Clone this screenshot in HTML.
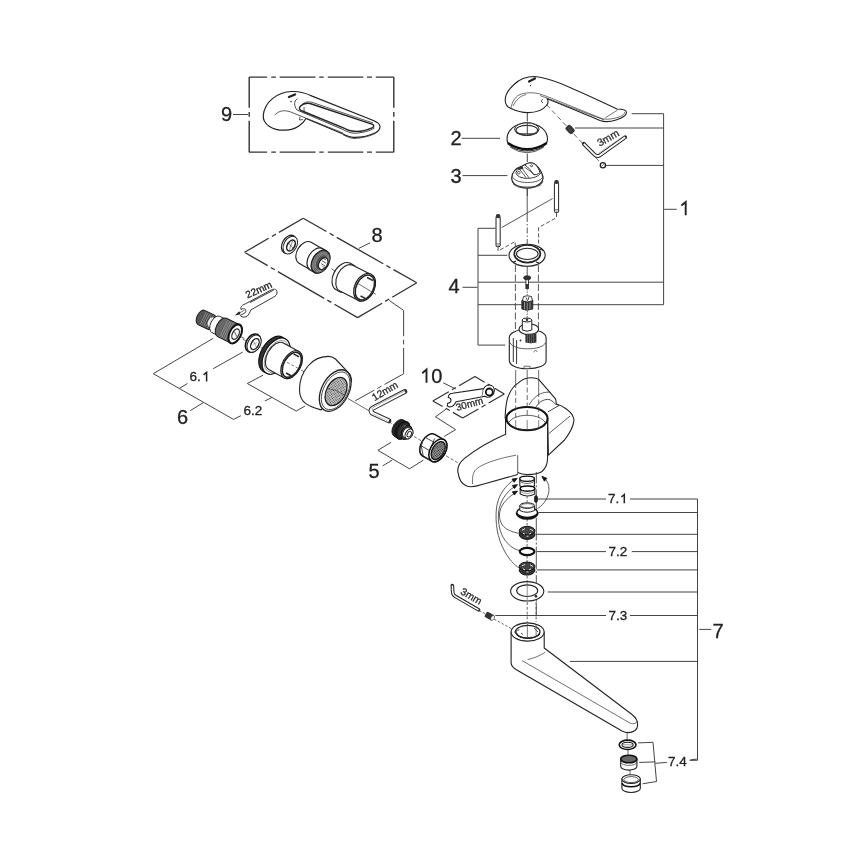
<!DOCTYPE html>
<html><head><meta charset="utf-8">
<style>
html,body{margin:0;padding:0;background:#fff;}
svg{display:block;will-change:transform;}
text{font-family:"Liberation Sans",sans-serif;fill:#222;stroke:#222;stroke-width:0.3;}
.L:not([stroke]){stroke:#444;}
.L:not([stroke-width]){stroke-width:1;}
.L:not([fill]){fill:none;}
.O:not([stroke]){stroke:#222;}
.O:not([stroke-width]){stroke-width:1.1;}
.O:not([fill]){fill:#fff;}
.O{stroke-linejoin:round;}
.o:not([stroke]){stroke:#333;}
.o:not([stroke-width]){stroke-width:0.7;}
.o:not([fill]){fill:none;}
.big{font-size:20px;}
.sm{font-size:13.5px;}
</style></head><body>
<svg width="868" height="868" viewBox="0 0 868 868">
<rect width="868" height="868" fill="#fff"/>
<!-- labels -->
<g id="labels">
<text class="big" x="221" y="120.6">9</text>
<text class="big" x="450.5" y="145">2</text>
<text class="big" x="450.5" y="183.2">3</text>
<path d="M681.4,205.6L685.7,202.1V215.2" stroke="#222" stroke-width="1.9" fill="none" stroke-linejoin="miter"/>
<text class="big" x="448.5" y="293.3">4</text>
<text class="big" x="371.5" y="241.7">8</text>
<text class="big" x="177" y="424.3">6</text>
<text class="sm" x="189.5" y="381.3">6.</text><path d="M203.6,374.8L206.6,372.4V381.4" stroke="#222" stroke-width="1.5" fill="none"/>
<text class="sm" x="243.5" y="414.8">6.2</text>
<path d="M422.2,373.2L426.5,369.6V382.8" stroke="#222" stroke-width="1.9" fill="none"/><text class="big" x="431.2" y="382.8">0</text>
<text class="big" x="368.5" y="478">5</text>
<text class="sm" x="608" y="503">7.</text><path d="M621.3,497L624.3,494.6V503.2" stroke="#222" stroke-width="1.5" fill="none"/>
<text class="sm" x="608.5" y="555.5">7.2</text>
<text class="sm" x="608.5" y="619.5">7.3</text>
<text class="big" x="712.5" y="638">7</text>
<text class="sm" x="668" y="766">7.4</text>
</g>
<!-- leader lines -->
<g id="leaders" class="L">
<path d="M233,114.5H248"/>
<path d="M461.6,138.3H500"/>
<path d="M462.5,175.6H507.4"/>
<path d="M664.2,209.3H676.7"/>
<path d="M663.6,113.7V304.7M631.7,113.7H663.6M575,128H663.6M606,165.4H663.6M478,282.2H663.6M478,304.7H663.6"/>
<path d="M462.5,287.3H477.4"/>
<path d="M478,228.3V345.1M478,228.3H495.4M478,255.3H507.4M478,345.1H505.3"/>
<path d="M359,248.3L370,242.8"/>
<path d="M213.2,338.3L153.3,373.7L233.5,419.4L240.9,415.7"/>
<path d="M242.7,352.1L213.2,368.7M187.4,383.5L179.1,388.6M203,402.8L190.2,410.7"/>
<path d="M263,375.2L247.3,383.5L296.2,411.1L305,406"/>
<path d="M264.8,401L272.2,397.3"/>
<path d="M443.2,382.8L455.6,389"/>
<path d="M697.5,499V760.3M536.8,499H606M630,499H697.5M538.5,512.5H697.5M536,534.3H697.5M536.8,551.6H606M631.8,551.6H697.5M536.8,569.9H697.5M547.8,592H697.5M495.3,615.5H606M630,615.5H697.5M569.9,661.4H697.5M689.7,760.3H697.5"/>
<path d="M699.3,629.4H711.3"/>
</g>
<g id="frames">
<path d="M249.1,77.1H267.1M249.1,152.1H267.1M271.3,77.1H275.9M271.3,152.1H275.9M279.6,77.1H315.5M279.6,152.1H315.5M319.2,77.1H323.7M319.2,152.1H323.7M327.8,77.1H363.3M327.8,152.1H363.3M367,77.1H372M367,152.1H372M375.8,77.1H393.8M375.8,152.1H393.8M249.2,77V107.8M393.8,77V107.8M249.2,112V116.7M393.8,112V116.7M249.2,120.8V152.2M393.8,120.8V152.2" stroke="#333" stroke-width="1.4" fill="none"/>


</g>

<g id="handle1">
<!-- axis line below handle -->
<path class="L" d="M527.3,112.5V121.5"/>
<path class="L" d="M527.3,153.7V162"/>
<path class="L" d="M527.3,188V196"/>
<!-- handle outer -->
<path class="O" d="M534.6,76.5C528,76.5 520,78.5 514,84.5C508,90 505,96 505.2,100.5C505.5,105 508,107.5 511,108.5C516,111 522,112.6 528,112.6C536,112.6 543,110 546.5,105.5C548.5,103 548,100 547,98.5C560,104 585,114 600,120.5C604,122 610,122 616,120C622,118 626.5,115 626.5,112.5C626.5,110 623,109 617,109C600,101 585,94 570,87.5C560,83 550,79 540,77.3Z"/>
<path class="o" d="M511,108C512,102 515,97 519,95C524,92.5 533,92 540,94C552,98 580,110 602,118.5C606,120 613,119 619,117C624,115 625,113 624.5,112"/>
<path class="o" d="M513,106C516,100 520,96 526,94.5"/>
<path class="o" d="M540,95.5C560,103 585,113 604,119.8"/>
<path class="o" d="M605.2,117.9L617.6,110"/>
<path d="M529,81.5L535,78.5" stroke="#222" stroke-width="2.2" stroke-linecap="round"/>
<circle cx="530.5" cy="85.5" r="0.7" fill="#333"/>
<path class="o" d="M543,99.2C541,100 541,102 543,102.8" stroke-width="1"/>
<!-- dashed screw axis -->
<path d="M546.6,104.6L602.4,164.8" stroke="#444" stroke-width="0.8" stroke-dasharray="5 3" fill="none"/>
<!-- grub screw -->
<g transform="translate(570.1,129.5) rotate(47)"><rect x="-4.2" y="-2.9" width="8.4" height="5.8" rx="2" fill="#333" stroke="#222" stroke-width="0.8"/><path d="M-2,-1.5V1.5M0,-1.5V1.5M2,-1.5V1.5" stroke="#777" stroke-width="0.5"/></g>
<!-- hex key 3mm -->
<path d="M583.8,143.8L594.5,154.6Q597,157 600,155.3L625.2,137.3" stroke="#222" stroke-width="3.8" fill="none" stroke-linecap="round" stroke-linejoin="round"/>
<path d="M583.8,143.8L594.5,154.6Q597,157 600,155.3L625.2,137.3" stroke="#fff" stroke-width="1.8" fill="none" stroke-linejoin="round"/>
<path d="M598,153.5L624.5,135.5" stroke="#888" stroke-width="0.5" fill="none"/>
<text x="0" y="0" font-size="10.5" style="fill:#333" transform="translate(599.8,146.8) rotate(-30)">3mm</text>
<!-- nut -->
<circle cx="602.9" cy="165.2" r="2.6" fill="#fff" stroke="#222" stroke-width="1.3"/>
<path d="M601.5,166.3L604.2,164" stroke="#333" stroke-width="0.6"/>
</g>
<g id="cap2">
<path d="M508,143.5Q527,157.5 546.8,143.5" stroke="#555" stroke-width="1" fill="none"/>
<path d="M510,147Q527,158.5 544,147" stroke="#333" stroke-width="0.8" fill="none"/>
<path class="O" d="M507,139C507,131 514,123.5 527,122.8C540,123.5 547.5,131 547.5,139C547.5,146 538,151 527,151C516,151 507,146 507,139Z"/>
<path d="M507.8,143Q527,155.5 546.8,143" stroke="#111" stroke-width="2.4" fill="none"/>
<ellipse class="O" cx="526.8" cy="129.2" rx="12.2" ry="6.4" stroke-width="1"/>
<ellipse class="o" cx="526.8" cy="130.2" rx="10.8" ry="4.8" stroke-width="1.1"/>
<path class="o" d="M516.5,133.5H537"/>
<path class="L" d="M527.3,122V135"/>
</g>
<g id="cap3">
<path class="O" d="M511.7,178C512,172 516,168 522,166L525.7,164.3C528,162.3 532.5,162 535.6,164.8C538.5,167.5 541.8,171.5 543,177C543.5,183 536,188.2 527.3,188.2C518.5,188.2 511.7,184 511.7,178Z" stroke-width="1.2"/>
<path class="o" d="M512,181.5C514,185.5 520,187 527.3,187C535,187 541,185.5 543,181.5" stroke-width="0.8"/>
<path class="o" d="M513.5,184C516,186.5 521,187.8 527.3,187.8C534,187.8 539,186.5 541.5,184" stroke="#555" stroke-width="1.2" stroke-dasharray="0.8 0.6"/>
<path class="o" d="M512.3,176.5C514,180.5 520,182.5 527.5,182.5C535,182.5 541.5,180.5 542.9,176.5" stroke-width="0.8"/>
<path class="o" d="M515.9,172.6C516.5,176 521,178.3 527.3,178.3C533,178.3 539,176.5 540.8,172.6" stroke-width="1"/>
<path class="o" d="M515.9,172.6C517,169.5 519.5,168 522,167.2" stroke-width="1"/>
<path class="O" d="M525,165C527.5,162.5 532.5,162.2 535.6,164.8C537.5,166.8 539.5,170 539.8,172.5C538,174.5 535.5,175 533.5,174.5C531,170.5 528.5,167.5 525,165Z" stroke-width="0.9"/>
<path class="o" d="M519,168.5L526,177.5M521.5,167.5L529,177.8M524.5,167L535,175" stroke-width="0.8"/>
<path d="M517.5,168L522.5,166L523.5,168.5L519,170Z" fill="#333"/>
<circle cx="518.8" cy="172.6" r="1.3" fill="none" stroke="#333" stroke-width="0.8"/>
<circle cx="531.5" cy="165.8" r="1" fill="none" stroke="#333" stroke-width="0.8"/>
</g>

<g id="handle9">
<path class="O" d="M291.9,91.5C299,91.3 306,93 312.1,96.1L372.7,120.3C377,122 380,123.5 380,126.5C380,129 378.5,131 376,132.5C370,135.5 362,137.5 353.3,137.4C349,137.3 346,135.5 343,134L306,118.5C303,124 296,129.8 285.4,130.2C272,130.5 262.5,124 263.3,115.4C264.5,102 277,92 291.9,91.5Z" stroke-width="1.2"/>
<path class="o" d="M297.4,98.8C293.5,101 294,106 297,110L343,129.5C347,131.5 350,133 354,133.2C362,133 370,131 374.5,128" stroke-width="0.9"/>
<path class="O" d="M300.5,106C303,103.5 306,102.8 310,103.5L372.5,124.3C374.5,125.2 374,127 372,127.8C366,130.5 358,132 352,131C349,130.8 347,129.5 344,128.2L301,110.5C299,109.5 299,107.5 300.5,106Z" stroke-width="1.4"/>
<path class="o" d="M302,104.5C305,101.5 309,101.5 312,102.3L373,123" stroke-width="0.8"/>
<path class="o" d="M343,134.8C347,136.8 350,138.3 354,138.5C362,138.3 372,135.8 377,132.3" stroke-width="0.8"/>
<path class="o" d="M274.8,115C278,111.5 282,110.5 285.4,110.8C288,111 290,111.5 292,112.5L343,133" stroke-width="0.8"/>
<path class="o" d="M304,107L304.2,113.5M300,116.5L299.5,120L303,119.5" stroke-width="0.8"/>
<path d="M289,97L295,94.5" stroke="#222" stroke-width="2.4" stroke-linecap="round"/>
<circle cx="291" cy="101.6" r="0.8" fill="#333"/>
</g>
<ellipse cx="288.9" cy="244.3" rx="6.6" ry="9.7" transform="rotate(30 288.9 244.3)" class="O" stroke-width="1.3"/><ellipse cx="290.3" cy="245.1" rx="6.4" ry="9.5" transform="rotate(30 290.3 245.1)" class="O" stroke-width="1"/><ellipse cx="291" cy="245.5" rx="3.6" ry="5.9" transform="rotate(30 291 245.5)" class="o" stroke="#222" stroke-width="1.6"/><path class="o" d="M287.5,242L293.5,248.5M289.5,249.5L292.5,241" stroke-width="0.6"/><path class="O" d="M299.03,263.27L310.23,269.77A12.1,8.11 120.13 0 0 322.37,248.83L311.17,242.33A12.1,8.11 120.13 0 0 299.03,263.27Z" stroke-width="1.1"/><path class="O" d="M310.2,269.98L314.4,272.38A12.3,8.24 119.74 0 0 326.6,251.02L322.4,248.62A12.3,8.24 119.74 0 0 310.2,269.98Z" style="fill:#fff" stroke-width="1.2"/><ellipse cx="320.5" cy="261.7" rx="8.2" ry="12.3" transform="rotate(30 320.5 261.7)" class="O" style="fill:#555" stroke="#222" stroke-width="1.3"/><ellipse cx="320.9" cy="262" rx="7.2" ry="10.9" transform="rotate(30 320.9 262)" class="o" stroke="#bbb" stroke-width="0.45"/><ellipse cx="321.2" cy="262.2" rx="6.3" ry="9.6" transform="rotate(30 321.2 262.2)" class="o" stroke="#bbb" stroke-width="0.45"/><ellipse cx="321.5" cy="262.4" rx="5.5" ry="8.4" transform="rotate(30 321.5 262.4)" class="o" stroke="#bbb" stroke-width="0.45"/><ellipse cx="323.2" cy="263.6" rx="4.2" ry="6.4" transform="rotate(30 323.2 263.6)" class="O" stroke="#222" stroke-width="1.3"/><path class="o" d="M321.6,260.6l4.5,2.6M320.9,263.6l4.5,2.6M322.4,266.6l3.5,2M323.1,258.3l3,1.7" stroke-width="0.8"/><path class="O" d="M336.24,289.84L339.24,291.44A15,10.05 118.07 0 0 353.36,264.96L350.36,263.36A15,10.05 118.07 0 0 336.24,289.84Z" stroke-width="1.1"/><path class="O" d="M339.89,291.09L358.19,300.19A14.4,9.65 116.44 0 0 371.01,274.41L352.71,265.31A14.4,9.65 116.44 0 0 339.89,291.09Z" stroke-width="1.1"/><ellipse cx="364.6" cy="287.3" rx="9.9" ry="14.6" transform="rotate(26.6 364.6 287.3)" class="O" stroke-width="1.2"/><ellipse cx="364.9" cy="287.5" rx="8.6" ry="13.2" transform="rotate(26.6 364.9 287.5)" class="o" stroke="#222" stroke-width="1.6"/><path class="o" d="M367,277.5l6,3M360.5,296l5,2.5" stroke-width="1.6"/><path class="L" d="M331.3,268.6l4.5,3.2M358,283.5l17.7,10.8" stroke-width="0.8"/><path d="M244.5,252.3L268.74,238.26M271.86,236.45L275.84,234.15M278.96,232.34L303.2,218.3M303.2,218.3L326.47,231.51M329.6,233.29L333.6,235.56M336.73,237.34L383.27,263.76M386.4,265.54L390.4,267.81M393.53,269.59L416.8,282.8M416.8,282.8L392.29,297.21M389.18,299.03L385.22,301.37M382.11,303.19L357.6,317.6M357.6,317.6L334.43,304.23M331.32,302.43L327.33,300.12M324.22,298.32L277.88,271.58M274.77,269.78L270.78,267.47M267.67,265.67L244.5,252.3" stroke="#333" stroke-width="1.3" fill="none"/><path d="M432.8,400.9L448.79,391.65M451.91,389.85L455.89,387.55M459.01,385.75L475,376.5M475,376.5L484.58,382.22M487.68,384.07L491.62,386.43M494.72,388.28L504.3,394M504.3,394L488.61,403.05M485.49,404.85L481.51,407.15M478.39,408.95L462.7,418M462.7,418L452.87,412.38M449.75,410.59L445.75,408.31M442.63,406.52L432.8,400.9" stroke="#333" stroke-width="1.2" fill="none"/><path d="M389.3,300.5L403.6,310.4M403.6,310.4L403.6,336.2M403.6,339.8L403.6,344.4M403.6,348L403.6,373.8M403.6,373.8L384.55,384.43M381.41,386.18L377.39,388.42M374.25,390.17L355.2,400.8" stroke="#444" stroke-width="1.0" fill="none"/><path class="L" d="M238.1667,335.3454L244.4597,338.41139999999996" stroke-width="0.8"/><path class="O" d="M197.89,324.4L207.78,329.22A7.8,4.37 115.98 0 0 214.61,315.19L204.72,310.38A7.8,4.37 115.98 0 0 197.89,324.4Z" style="fill:#555" stroke-width="1.1"/><path class="O" d="M208.29,327.02L213.69,329.65A5.6,3.14 115.98 0 0 218.59,319.58L213.2,316.95A5.6,3.14 115.98 0 0 208.29,327.02Z" stroke-width="1"/><path class="O" d="M211.75,332.49L218.49,335.77A9,5.04 115.98 0 0 226.38,319.59L219.63,316.3A9,5.04 115.98 0 0 211.75,332.49Z" stroke-width="1"/><path class="O" d="M217.52,336.63L230.73,343.07A10.2,5.71 115.98 0 0 239.67,324.73L226.45,318.29A10.2,5.71 115.98 0 0 217.52,336.63Z" style="fill:#666" stroke-width="1.1"/><path d="M206.2,312.0L200.0,324.6M208.0,312.8L201.8,325.5M209.8,313.7L203.6,326.3M211.6,314.6L205.4,327.2M213.4,315.5L207.2,328.1M227.8,320.1L219.8,336.6M229.6,321.0L221.6,337.5M231.4,321.8L223.4,338.3M233.2,322.7L225.2,339.2M235.0,323.6L227.0,340.1M236.8,324.5L228.8,341.0" stroke="#aaa" stroke-width="0.5" fill="none"/><ellipse cx="235.2" cy="333.9" rx="5.7" ry="10.2" transform="rotate(26 235.2 333.9)" class="O" stroke="#111" stroke-width="2"/><ellipse cx="235.6" cy="334.1" rx="3.2" ry="5.6" transform="rotate(26 235.6 334.1)" class="o" stroke-width="1.3"/><path class="o" d="M234.3,331.5L236.9,336.7" stroke-width="0.8"/><path class="O" d="M245.5,303.8L271.5,289.8C274.5,288.2 277.5,289.8 277,293C276.8,295 275.5,296 273.8,297L251,309.8C249.5,312.5 248.8,315.8 245.8,316.8C243,317.6 240.8,316.5 240.3,315.5L243.8,313.5C245.8,312.8 246.5,311 245.5,309.5C244.5,308.2 242.5,308.5 241,309.5L240.8,307.6C241.5,305.5 243.5,304.5 245.5,303.8Z" stroke-width="0.9"/><path class="o" d="M250,302.5L273.5,290" stroke="#555" stroke-width="1.3"/><path d="M244.5,310.2L238,313.8" stroke="#333" stroke-width="0.7"/><path d="M234.8,315.5L239.2,311.2L240.6,314.2Z" fill="#222"/><text font-size="10" transform="translate(247.6,298.6) rotate(-25)">22mm</text><path class="L" d="M242.5,339L247,341.5M261,347.5L266,350" stroke-width="0.8"/><ellipse cx="252.9" cy="343.1" rx="6.7" ry="9.8" transform="rotate(29 252.9 343.1)" class="O" stroke="#111" stroke-width="1.5"/><ellipse cx="254.1" cy="343.7" rx="6.3" ry="9.3" transform="rotate(29 254.1 343.7)" class="O" stroke="#222" stroke-width="1.1"/><ellipse cx="254.9" cy="344.1" rx="3.6" ry="5.9" transform="rotate(29 254.9 344.1)" class="o" stroke="#222" stroke-width="1.4"/><path d="M253.2,340.5L256.5,347.5M252.5,344.5L257,342.5" stroke="#666" stroke-width="0.5"/><path class="O" d="M263.14,371.41L266.65,373.34A19.6,11.76 118.82 0 0 285.54,339L282.04,337.07A19.6,11.76 118.82 0 0 263.14,371.41Z" style="fill:#333" stroke="#111" stroke-width="1.1"/><ellipse cx="276.09" cy="356.17" rx="11.76" ry="19.6" transform="rotate(28.8 276.09 356.17)" class="O" stroke="#111" stroke-width="1.1"/><ellipse cx="276.45" cy="356.36" rx="10.2" ry="17.4" transform="rotate(28.8 276.45 356.36)" class="o" stroke="#666" stroke-width="0.6"/><path class="O" d="M268.79,369.44L284.3,377.97A15.15,9.09 118.82 0 0 298.9,351.43L283.4,342.9A15.15,9.09 118.82 0 0 268.79,369.44Z" stroke-width="1.1"/><ellipse cx="291.6" cy="364.7" rx="9.1" ry="15.15" transform="rotate(28.8 291.6 364.7)" class="O" stroke-width="1.2"/><ellipse cx="291.8" cy="364.8" rx="8" ry="13.6" transform="rotate(28.8 291.8 364.8)" class="o" stroke="#222" stroke-width="1.7"/><path d="M293.5,353.8l5.5,3M286,373l5.5,3" stroke="#222" stroke-width="1.5"/><path class="L" d="M287,362.3l11,6" stroke-width="0.7" stroke-dasharray="3 2"/><path class="L" d="M301,370l6,3.3" stroke-width="0.8"/><path class="O" d="M351.6,381C351.2,377.5 350.8,375.5 349.5,373.8L335.5,359C333,357 331,356.3 328,356.4C320,356.6 313,360 308,366C302,373 299.5,381 299.5,389.7C299.5,396 302,401 306.2,403.9C310,406.5 316,408.5 321.2,409.9Z" stroke-width="1.1"/><ellipse cx="335.2" cy="390.6" rx="13.5" ry="22.4" transform="rotate(28 335.2 390.6)" class="O" stroke-width="1.3"/><ellipse cx="335.6" cy="390.8" rx="12" ry="20.4" transform="rotate(28 335.6 390.8)" class="o" stroke-width="0.8"/><defs><pattern id="mesh" width="1.5" height="1.5" patternUnits="userSpaceOnUse"><rect width="1.5" height="1.5" fill="#bbb"/><rect width="0.75" height="0.75" fill="#555"/></pattern></defs><ellipse cx="336.1" cy="391.5" rx="9.6" ry="15.2" transform="rotate(28 336.1 391.5)" class="o" fill="url(#mesh)" stroke="#222" stroke-width="1.3"/><path d="M327.5,388.5Q336,389 344,395" stroke="#333" stroke-width="0.6" fill="none"/><path class="L" d="M348,398.5L370,411.4" stroke-width="0.8"/><path d="M385,419L394,425M414.1,436.5L422.8,441.7M446.4,456.1L460,464" stroke="#444" stroke-width="0.8" stroke-dasharray="3 2" fill="none"/><path d="M404.8,391.5L372.5,408.3Q369.8,410.5 372,413L388.8,420.8" stroke="#333" stroke-width="5" fill="none" stroke-linejoin="round" stroke-linecap="round"/><path d="M404.8,391.5L372.5,408.3Q369.8,410.5 372,413L388.8,420.8" stroke="#fff" stroke-width="3" fill="none" stroke-linejoin="round"/><path d="M404,391.2L373.2,407.2Q371.8,408.8 372.2,410.5" stroke="#777" stroke-width="0.6" fill="none"/><path d="M372.5,413.8L388.5,421.2" stroke="#999" stroke-width="0.5" fill="none"/><text font-size="10.2" style="fill:#333" transform="translate(374.5,401.2) rotate(-30.5)">12mm</text><path class="O" d="M394.11,436.25L398.11,438.55A9.4,5.83 119.9 0 0 407.49,422.25L403.49,419.95A9.4,5.83 119.9 0 0 394.11,436.25Z" style="fill:#222" stroke-width="1"/><ellipse cx="402.8" cy="430.4" rx="5.8" ry="9.4" transform="rotate(30 402.8 430.4)" class="O" style="fill:#333" stroke="#111" stroke-width="1.6"/><path class="O" d="M399.15,436.84L402.85,438.94A7.4,4.59 119.58 0 0 410.15,426.06L406.45,423.96A7.4,4.59 119.58 0 0 399.15,436.84Z" style="fill:#333" stroke-width="1"/><path d="M405.2,425.5l-3.8,10M406.6,426.3l-3.8,10" stroke="#bbb" stroke-width="0.7"/><ellipse cx="406.5" cy="432.5" rx="4.6" ry="7.4" transform="rotate(30 406.5 432.5)" class="O" style="fill:#444" stroke="#111" stroke-width="1"/><path class="O" d="M403.72,437.13L406.22,438.63A5.4,3.35 120.96 0 0 411.78,429.37L409.28,427.87A5.4,3.35 120.96 0 0 403.72,437.13Z" stroke-width="1"/><ellipse cx="409" cy="434" rx="3.35" ry="5.4" transform="rotate(30 409 434)" class="O" stroke-width="1.1"/><ellipse cx="409.3" cy="434.2" rx="1.9" ry="3" transform="rotate(30 409.3 434.2)" class="o" stroke-width="1"/><path class="O" d="M422.55,456.02L431.85,461.22A12.4,7.69 119.21 0 0 443.95,439.58L434.65,434.38A12.4,7.69 119.21 0 0 422.55,456.02Z" stroke="#111" stroke-width="1.5"/><path class="o" d="M425.5,437.5l9.2,5.2M421.5,446l9.2,5.2M424,456.8l9.2,5.2M434.5,438.5l-3.2,8.2l2.2,6.8M422.8,440.5l-1.5,5.5l2,10.5" stroke-width="0.9"/><ellipse cx="437.9" cy="450.4" rx="7.7" ry="12.4" transform="rotate(30 437.9 450.4)" class="O" stroke="#111" stroke-width="1.5"/><defs><pattern id="mesh2" width="1.5" height="1.5" patternUnits="userSpaceOnUse"><rect width="1.5" height="1.5" fill="#888"/><rect width="0.75" height="0.75" fill="#333"/></pattern></defs><ellipse cx="438.2" cy="450.6" rx="5.9" ry="9.8" transform="rotate(30 438.2 450.6)" class="o" fill="url(#mesh2)" stroke="#111" stroke-width="1.3"/><path class="O" d="M448.2,397.5C448.5,394.5 450,393.3 452.5,393.3L483.8,388.6C485,386.2 487,385 489.5,385C492.5,385.2 494.5,387.8 494.3,391C494,394.5 491.2,397.2 488,397.2C486.8,397.2 485.8,396.8 485,396.2L456,401.8C455,404 453.5,406.5 450.8,406.8C449.2,407 448,406.5 447.3,405.8L447.8,403C449.5,403.2 450.8,402.2 451,400.5C451.2,398.8 449.8,397.8 448.2,397.5Z" stroke-width="1.1"/><circle cx="489.3" cy="392" r="3.5" fill="#fff" stroke="#111" stroke-width="1.8"/><path class="o" d="M483.2,389l-1,6.8" stroke-width="0.7"/><text font-size="10" style="fill:#333" transform="translate(457,411) rotate(-16)">30mm</text><path class="L" d="M446,409.2L435.5,416.8L455.6,429.6L444.1,436.5M391.1,442.3L377.9,450.3L409.5,468.8L423.4,460.1M382.5,465.9L392.3,460.1" stroke-width="1"/><path class="L" d="M527.2,188V216M501.8,227.5L552.6,198.5" stroke-width="0.9"/><path d="M527.2,216V244" stroke="#444" stroke-width="0.9" fill="none" stroke-dasharray="6 2 1.5 2"/><path d="M498.1,247V251L515.3,241.5V248M556.5,213V217.7L538.6,227.5V246" stroke="#444" stroke-width="0.9" fill="none" stroke-dasharray="4 2.2"/><rect x="496.0" y="216.6" width="4.2" height="30.099999999999994" rx="1.2" fill="#fff" stroke="#222" stroke-width="1"/><rect x="495.8" y="214.1" width="4.6" height="4.2" rx="2" fill="#333"/><path d="M496.1,243.7h4M496.1,245.2h4" stroke="#444" stroke-width="0.6"/><rect x="554.4" y="182.4" width="4.2" height="30.099999999999994" rx="1.2" fill="#fff" stroke="#222" stroke-width="1"/><rect x="554.2" y="179.9" width="4.6" height="4.2" rx="2" fill="#333"/><path d="M554.5,209.5h4M554.5,211.0h4" stroke="#444" stroke-width="0.6"/><ellipse cx="527.1" cy="255.3" rx="18.1" ry="11" transform="rotate(0 527.1 255.3)" class="O" stroke-width="1.1"/><path d="M510,258.5C512,264 519,266.5 527,266.5C535,266.5 542,264 544,258.5" stroke="#333" stroke-width="0.6" fill="none"/><ellipse cx="527.3" cy="253.8" rx="13" ry="8.8" transform="rotate(0 527.3 253.8)" class="O" stroke="#222" stroke-width="1.7"/><ellipse cx="527.3" cy="253.9" rx="10.8" ry="5.6" transform="rotate(0 527.3 253.9)" class="O" stroke-width="1.1"/><path d="M540,249l3.5,1.5M513,262.5l3,-1.5M536,262l3,1" stroke="#222" stroke-width="1.3"/><path class="L" d="M527.2,266.5V276" stroke-width="0.9"/><path d="M515.4,265V340M538.4,265V340" stroke="#444" stroke-width="0.9" fill="none" stroke-dasharray="7 2.5"/><path d="M538.4,200V226" stroke="#444" stroke-width="0" fill="none"/><rect x="525.9" y="278.5" width="2.6" height="10" fill="#fff" stroke="#222" stroke-width="0.9"/><rect x="525.9" y="284" width="2.6" height="4.5" fill="#333"/><ellipse cx="527.2" cy="277.8" rx="3.6" ry="2" transform="rotate(0 527.2 277.8)" class="O" style="fill:#333" stroke="#222" stroke-width="0.8"/><path class="L" d="M527.2,289V295" stroke-width="0.8" stroke-dasharray="1.5 1"/><path d="M521.8,300.5V309Q527,311.5 532.8,309V300.5Z" fill="#333" stroke="#222" stroke-width="0.8"/><path d="M524.5,302V309.5M527.2,302.5V310M530,302V309.5" stroke="#ccc" stroke-width="0.6"/><path d="M522.5,300.8L523.5,296.5Q527,295 531.5,296.5L532.5,300.8Q527,303 522.5,300.8Z" fill="#fff" stroke="#222" stroke-width="0.9"/><path d="M526,297.5l1.5,3.5M529,297l-1,3" stroke="#222" stroke-width="0.8"/><path class="L" d="M527.2,311V318" stroke-width="0.8" stroke-dasharray="1.5 1"/><path class="O" d="M509.3,337.5C509.3,333 517,329.3 527.7,329.3C538.5,329.3 546.1,333 546.1,338V361C546.1,365.5 538,368.7 527.5,368.7C517,368.7 509.3,365.5 509.3,360.5Z" stroke-width="1.1"/><path class="o" d="M509.8,342.5C512,347 519,348.8 527.5,348.8C536,348.8 543.5,347 545.8,342.5" stroke-width="0.8"/><path d="M513.3,338V362M516.6,340V364" stroke="#333" stroke-width="1"/><path d="M524,366.2h6v2.2h-6Z" fill="#fff" stroke="#333" stroke-width="0.7"/><ellipse cx="528.8" cy="329.2" rx="9.8" ry="5.5" transform="rotate(0 528.8 329.2)" class="O" stroke-width="1.1"/><path d="M525.4,333.8V342.5Q531,344 536.4,342.5V333.5Z" fill="#333"/><path d="M527.5,334v9M529.5,334v9.5M531.5,334v9.5M533.5,334v9" stroke="#888" stroke-width="0.5"/><path class="O" d="M522.3,320V330Q527,332.5 531.8,330V320Z" stroke-width="1"/><ellipse cx="527" cy="320" rx="4.8" ry="2" transform="rotate(0 527 320)" class="O" stroke-width="1"/><circle cx="527" cy="319.8" r="1.3" fill="#333"/><circle cx="520.5" cy="340.5" r="1" fill="#333"/><path d="M533.5,352l2,-1.5l2,1" stroke="#333" stroke-width="0.7" fill="none"/><path class="L" d="M515.4,340V372M538.4,340V372" stroke-width="0" /><path class="O" d="M505.1,418C505.5,405 507,398 509.2,394C512,388 515,385 518.4,382.9C522,379.5 527,377.8 531.3,377.8C534.5,377.8 537,378.3 538.7,379.4L555.3,398.6C556,400 556.2,402 556.2,403.2C557,404.3 558,404.8 559,405C561,405.5 563,406.5 564.5,407.8C568,410 571.5,413 572.8,416.1C574,419 574,421 573.7,421.6C573,428 569,434 564.5,440L548.4,455.2L547.6,419Z" stroke-width="1.1"/><path class="o" d="M529,405C533,398 539,393.5 544.2,392.6C546,392.2 548,392 549.8,392.1" stroke-width="0.8"/><path class="o" d="M536,406.9C538.5,403 541,401 543.3,400.4C545,399.6 547,399.3 548.8,399.5C551,399.8 553,401.5 555.3,404.1L559,405.5L547.9,411.9" stroke-width="0.9"/><path class="o" d="M548.8,433.6L570,416.1" stroke-width="0.8"/><path class="O" d="M505.6,418.1V455C505.6,460 508,464 511,467C514,471 518,474.5 527,474.5C536,474.5 539.5,473.5 542,471.5C546,468 547.6,464 547.6,458V418.1Z" stroke-width="1.1"/><ellipse cx="527" cy="418.6" rx="20.6" ry="11.6" transform="rotate(0 527 418.6)" class="O" stroke="#111" stroke-width="2"/><path class="o" d="M508.8,422.5C511,427 518,429.8 527,429.8C536,429.8 543,427 545.2,422.5C543,418.5 536,415.3 527,415.3C518,415.3 511,418.5 508.8,422.5Z" stroke-width="0.8"/><path d="M515.7,383V418M538.7,392V418M527.2,380V417" stroke="#444" stroke-width="0.8" stroke-dasharray="5 2.5" fill="none"/><path d="M515.7,370V383M538.7,370V392M527.2,370V380" stroke="#444" stroke-width="0.8" fill="none"/><path d="M515.7,420V428M538.7,420V428M527.2,420V429" stroke="#555" stroke-width="0.7" fill="none"/><path d="M505.6,434.2C490,441 476,449 464.5,458.4C459,463 457,468 458.1,472.9C459,479 462,484 466.1,485.8C470,487.5 476,486.5 482,484.5L517.7,474.5V455.2C512,450 507,443 505.6,434.2Z" fill="#fff" stroke="none"/><path class="o" d="M505.6,434.2C490,441 476,449 464.5,458.4C459,463 457,468 458.1,472.9C459,479 462,484 466.1,485.8C470,487.5 476,486.5 482,484.5L517.7,474.5" stroke="#222" stroke-width="1.1"/><path class="o" d="M472.6,484.2C472,478 473,472.5 475.8,469.7C480,465 495,459 516.1,455.2" stroke-width="0.7"/><path class="o" d="M517.7,455.2V474.5" stroke-width="0.8"/><path class="O" d="M519.8,478V486Q527,490 534.4,486V478Z" stroke-width="1.1"/><ellipse cx="527.1" cy="478.8" rx="7.3" ry="2.6" transform="rotate(0 527.1 478.8)" class="O" stroke="#111" stroke-width="1.3"/><path d="M519.9,481.5Q527,485.5 534.3,481.5" stroke="#333" stroke-width="0.7" fill="none"/><path class="O" d="M520.2,488.5V494Q527.5,498 534.8,494V488.5Z" stroke-width="1.1"/><ellipse cx="527.5" cy="488.6" rx="7.3" ry="2.6" transform="rotate(0 527.5 488.6)" class="O" stroke="#111" stroke-width="1.4"/><path d="M520.3,491.5Q527.5,495.5 534.7,491.5" stroke="#555" stroke-width="0.6" fill="none"/><path d="M514.1,479.7C506,485 498,495 496.5,508C495,522 497,538 505,552C509,559 514,565 519.7,568.2" stroke="#333" stroke-width="0.8" fill="none"/><path d="M514.1,487C506,492 499.5,502 498.5,513C497.5,525 501,537 507.7,543.3C511,547 515,549.5 519.7,550.7" stroke="#333" stroke-width="0.8" fill="none"/><path d="M514.1,493.5C506,499 500,506 499.5,514C499,522 503,528 509.5,530.4C513,532 516,533 519.7,533.2" stroke="#333" stroke-width="0.8" fill="none"/><path d="M517.2,478.3l-5.2,0.8l2.2,3.2Z" fill="#111" stroke="#111" stroke-width="0.8" stroke-linejoin="round"/><path d="M517.5,484.6l-5.2,0.8l2.2,3.2Z" fill="#111" stroke="#111" stroke-width="0.8" stroke-linejoin="round"/><path d="M517.5,491l-5.2,0.8l2.2,3.2Z" fill="#111" stroke="#111" stroke-width="0.8" stroke-linejoin="round"/><path d="M537.5,508.5C545,504 549,496 549,489C549,484 547,480 543.5,477.5" stroke="#333" stroke-width="0.8" fill="none"/><path d="M541.8,476.3l2.6,5l2.5,-3Z" fill="#111" stroke="#111" stroke-width="0.8" stroke-linejoin="round"/><path d="M527.1,496V503M527.1,519V526M527.1,540V547M527.1,556V562M527.1,576V582" stroke="#444" stroke-width="0.8" fill="none" stroke-dasharray="2.5 1.5"/><path d="M536.3,472L536.3,483.3M536.3,485.3L536.3,487.3M536.3,489.3L536.3,511.9M536.3,513.9L536.3,515.9M536.3,517.9L536.3,540.5M536.3,542.5L536.3,544.5M536.3,546.5L536.3,569.1M536.3,571.1L536.3,573.1M536.3,575.1L536.3,597.7M536.3,599.7L536.3,601.7M536.3,603.7L536.3,615" stroke="#444" stroke-width="0.9" fill="none"/><ellipse cx="536" cy="499" rx="1.7" ry="3.6" transform="rotate(0 536 499)" class="O" style="fill:#222" stroke="#111" stroke-width="0.6"/><path d="M516.9,512.5C516.9,516 521.5,518.6 527.2,518.6C532.9,518.6 537.5,516 537.5,512.5" stroke="#111" stroke-width="2.4" fill="none"/><ellipse cx="527.2" cy="512.4" rx="10.3" ry="4.9" transform="rotate(0 527.2 512.4)" class="O" stroke="#111" stroke-width="1.3"/><path class="O" d="M519.8,505.8V510.5Q527,514 534.6,510.5V505.8Z" stroke-width="1"/><ellipse cx="527.2" cy="505.6" rx="7.4" ry="2.8" transform="rotate(0 527.2 505.6)" class="O" stroke-width="1"/><ellipse cx="527.2" cy="505.7" rx="6" ry="2" transform="rotate(0 527.2 505.7)" class="o" stroke-width="0.6"/><ellipse cx="527.1" cy="534.4" rx="7.9" ry="5" transform="rotate(0 527.1 534.4)" class="O" style="fill:#333" stroke="#111" stroke-width="1"/><rect x="519.2" y="530.7" width="15.8" height="3.6" fill="#333"/><ellipse cx="527.1" cy="530.7" rx="7.9" ry="4.3" transform="rotate(0 527.1 530.7)" class="O" style="fill:#444" stroke="#111" stroke-width="1"/><path d="M522,530.2l3,-1.5M530,529.2l3,1.5M523,533.2l2,1M529,534.2l2,-1M526.5,536.2h2" stroke="#ddd" stroke-width="1" fill="none"/><ellipse cx="527.1" cy="570.1" rx="7.9" ry="5" transform="rotate(0 527.1 570.1)" class="O" style="fill:#333" stroke="#111" stroke-width="1"/><rect x="519.2" y="566.4" width="15.8" height="3.6" fill="#333"/><ellipse cx="527.1" cy="566.4" rx="7.9" ry="4.3" transform="rotate(0 527.1 566.4)" class="O" style="fill:#444" stroke="#111" stroke-width="1"/><path d="M522,565.9l3,-1.5M530,564.9l3,1.5M523,568.9l2,1M529,569.9l2,-1M526.5,571.9h2" stroke="#ddd" stroke-width="1" fill="none"/><ellipse cx="527.1" cy="551.5" rx="7.3" ry="3.6" transform="rotate(0 527.1 551.5)" class="o" stroke="#111" stroke-width="2.2"/><ellipse cx="527.2" cy="591.3" rx="16.6" ry="9.7" transform="rotate(0 527.2 591.3)" class="O" stroke-width="1.1"/><ellipse cx="527.2" cy="590.7" rx="10.5" ry="5.8" transform="rotate(0 527.2 590.7)" class="O" stroke-width="1.1"/><circle cx="536" cy="596.3" r="1.3" fill="#222"/><path d="M527.2,582V601" stroke="#666" stroke-width="0.7"/><path d="M527.2,602V622M536.1,602V622" stroke="#444" stroke-width="0.8" fill="none" stroke-dasharray="3 1.8"/><path d="M452.3,585.6L452.8,593.2Q453.2,595.2 455.2,596.3L478.5,609.8" stroke="#222" stroke-width="3.6" fill="none" stroke-linejoin="round" stroke-linecap="round"/><path d="M452.3,585.6L452.8,593.2Q453.2,595.2 455.2,596.3L478.5,609.8" stroke="#fff" stroke-width="1.5" fill="none" stroke-linejoin="round"/><text font-size="10.2" style="fill:#333" transform="translate(459.8,593.6) rotate(30)">3mm</text><path d="M479,610.5L486,614M494,619L512,629" stroke="#444" stroke-width="0.8" fill="none" stroke-dasharray="2.5 1.8"/><g transform="translate(489.5,616.2) rotate(30)"><rect x="-4.5" y="-3" width="9" height="6" rx="1.5" fill="#333"/><ellipse cx="3.5" cy="0" rx="1.6" ry="2.6" fill="#fff" stroke="#333" stroke-width="0.6"/></g><path class="O" d="M511.1,632V662.4C511.1,665.5 513,667.5 516,669.5L622,731C626,733 631,733 635,730.5C638,728.5 638.5,723 636.4,719.5C635.5,717.5 634,716 632,714.5L544.2,648V632Z" stroke-width="1.1"/><path class="o" d="M522.1,660.6L629,722.5C632,724.5 636.5,724 637,721" stroke-width="0.7"/><path class="o" d="M527.6,659.6C535,658 540,655.5 545.2,652.3" stroke-width="0.7"/><ellipse cx="527.6" cy="632" rx="16.5" ry="9.1" transform="rotate(0 527.6 632)" class="O" stroke-width="1.1"/><ellipse cx="527.8" cy="631.8" rx="12.2" ry="6.4" transform="rotate(0 527.8 631.8)" class="O" stroke-width="1.2"/><path d="M516.5,633.5C518,636.5 523,638.3 528,638.3C533,638.3 538,636.5 539.8,633.5" stroke="#222" stroke-width="1.4" fill="none"/><path class="o" d="M516.5,630.5l3,-0.8M521,633l2,1.5M534,628l4,4M528,638l4,-1" stroke-width="0.8"/><circle cx="515.5" cy="632" r="1" fill="none" stroke="#333" stroke-width="0.6"/><path d="M527.4,624V638M536.1,624V637" stroke="#444" stroke-width="0.7" fill="none"/><path class="L" d="M627.1,732.5V740M628,750V755M630,770V775" stroke-width="0.8"/><ellipse cx="627.6" cy="744.8" rx="8.4" ry="4.7" transform="rotate(0 627.6 744.8)" class="O" stroke="#111" stroke-width="1.6"/><ellipse cx="627.6" cy="744.8" rx="5.6" ry="2.6" transform="rotate(0 627.6 744.8)" class="O" stroke-width="1.1"/><path d="M622,744.8h11" stroke="#555" stroke-width="0.6"/><path class="O" d="M620.7,759V766.5A8.1,3.6 0 0 0 636.9,766.5V759Z" stroke-width="1.1"/><ellipse cx="628.8" cy="759" rx="8.1" ry="3.8" transform="rotate(0 628.8 759)" class="O" style="fill:#666" stroke="#111" stroke-width="1.6"/><path d="M620.8,762.3A8.1,3.6 0 0 0 636.8,762.3" stroke="#333" stroke-width="0.7" fill="none"/><path class="O" d="M621.9,779.1V788.5A9.2,4 0 0 0 640.3,788.5V779.1Z" stroke-width="1.1"/><path d="M622,783.3A9.2,4 0 0 0 640.2,783.3" stroke="#111" stroke-width="1.6" fill="none"/><ellipse cx="631.1" cy="779.1" rx="9.2" ry="4.3" transform="rotate(0 631.1 779.1)" class="O" stroke-width="1.1"/><ellipse cx="631.1" cy="779.6" rx="7.2" ry="3" transform="rotate(0 631.1 779.6)" class="o" stroke-width="0.8"/><path class="L" d="M638,742.9L653,742.3L656.5,781.5L642.6,783.8M639.2,762.4L655.3,761.9M655.3,763.3L666.8,762.4M689.9,760.1L696.8,759" stroke-width="1"/></svg>
</body></html>
